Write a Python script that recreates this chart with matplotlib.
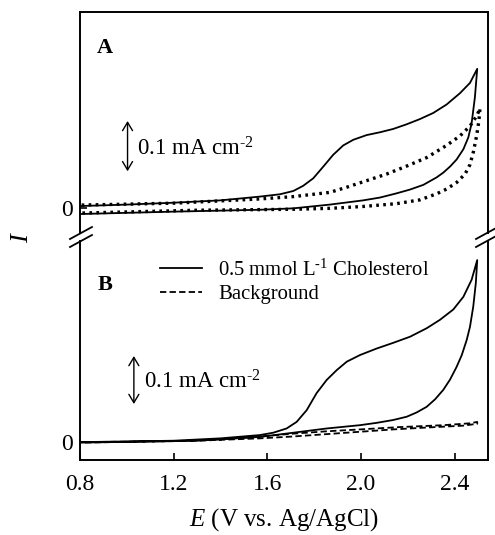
"""Cyclic voltammograms, panels A and B with a broken current axis"""
import matplotlib
matplotlib.use("Agg")
import matplotlib.pyplot as plt
from matplotlib.lines import Line2D

plt.rcParams['font.family'] = ['Liberation Serif', 'DejaVu Serif']
plt.rcParams['mathtext.fontset'] = 'custom'
plt.rcParams['mathtext.rm'] = 'Liberation Serif'
plt.rcParams['mathtext.it'] = 'Liberation Serif:italic'

# ---- data (E in V vs. Ag/AgCl, I in mA cm-2) ----
# panel A, cholesterol (solid): forward then reverse scan
a_chol_fwd_E = [0.807, 1.0, 1.2, 1.4, 1.568, 1.654, 1.711, 1.753, 1.796, 1.839,
                1.881, 1.924, 1.967, 2.024, 2.081, 2.137, 2.195, 2.251, 2.308,
                2.365, 2.422, 2.465, 2.496]
a_chol_fwd_I = [0.004, 0.007, 0.011, 0.016, 0.024, 0.029, 0.036, 0.047, 0.063,
                0.088, 0.113, 0.133, 0.145, 0.155, 0.161, 0.168, 0.178, 0.189,
                0.202, 0.220, 0.244, 0.266, 0.296]
a_chol_rev_E = [2.496, 2.486, 2.472, 2.458, 2.437, 2.408, 2.380, 2.351, 2.323,
                2.266, 2.209, 2.152, 2.081, 2.009, 1.867, 1.711, 1.568, 1.2, 0.807]
a_chol_rev_I = [0.296, 0.235, 0.180, 0.150, 0.125, 0.103, 0.088, 0.075, 0.065,
                0.049, 0.039, 0.031, 0.022, 0.016, 0.007, -0.001, -0.004, -0.008,
                -0.013]
# panel A, background (dotted)
a_bg_fwd_E = [0.807, 1.2, 1.568, 1.711, 1.867, 1.939, 2.024, 2.109, 2.195,
              2.280, 2.365, 2.422, 2.465, 2.494, 2.508]
a_bg_fwd_I = [0.006, 0.010, 0.019, 0.024, 0.033, 0.044, 0.058, 0.072, 0.089,
              0.107, 0.133, 0.153, 0.174, 0.196, 0.212]
a_bg_rev_E = [2.508, 2.503, 2.494, 2.480, 2.465, 2.444, 2.408, 2.365, 2.323,
              2.251, 2.152, 2.009, 1.867, 1.711, 1.3, 0.807]
a_bg_rev_I = [0.212, 0.185, 0.155, 0.120, 0.092, 0.072, 0.054, 0.040, 0.030,
              0.017, 0.009, 0.003, -0.001, -0.003, -0.005, -0.011]

# panel B, cholesterol (solid)
b_chol_fwd_E = [0.807, 1.2, 1.4, 1.568, 1.625, 1.682, 1.725, 1.768, 1.810,
                1.853, 1.896, 1.939, 1.995, 2.067, 2.137, 2.209, 2.280, 2.337,
                2.394, 2.437, 2.472, 2.496]
b_chol_fwd_I = [0.0, 0.003, 0.008, 0.015, 0.020, 0.029, 0.043, 0.068, 0.104,
                0.132, 0.153, 0.171, 0.185, 0.199, 0.211, 0.224, 0.242, 0.260,
                0.282, 0.309, 0.345, 0.387]
b_chol_rev_E = [2.496, 2.490, 2.479, 2.465, 2.451, 2.430, 2.408, 2.380, 2.351,
                2.316, 2.280, 2.237, 2.195, 2.137, 2.067, 1.995, 1.853, 1.711,
                1.568, 1.3, 0.807]
b_chol_rev_I = [0.387, 0.338, 0.288, 0.245, 0.217, 0.185, 0.160, 0.133, 0.111,
                0.091, 0.075, 0.063, 0.054, 0.047, 0.041, 0.036, 0.029, 0.020,
                0.011, 0.003, -0.001]
# panel B, background (dashed)
b_bg_fwd_E = [0.807, 1.2, 1.4, 1.568, 1.711, 1.853, 1.995, 2.166, 2.351,
              2.465, 2.496]
b_bg_fwd_I = [0.0, 0.002, 0.006, 0.012, 0.018, 0.023, 0.027, 0.032, 0.036,
              0.040, 0.043]
b_bg_rev_E = [2.496, 2.437, 2.280, 2.137, 1.995, 1.853, 1.711, 1.568, 1.3, 0.807]
b_bg_rev_I = [0.039, 0.035, 0.031, 0.027, 0.022, 0.017, 0.012, 0.008, 0.003, -0.001]

x_ticks = [0.8, 1.2, 1.6, 2.0, 2.4]
x_ticklabels = ['0.8', '1.2', '1.6', '2.0', '2.4']
legend_labels = ['0.5 mmol L$^{\\mathregular{\u2010}1}$ Cholesterol', 'Background']
scale_label = '0.1 mA cm$^{\\mathregular{\u20102}}$'

W, H = 495, 535
fig = plt.figure(figsize=(W / 100, H / 100), dpi=100)

left, right = 80 / W, 488 / W
y_top, y_mid, y_bot = 1 - 12 / H, 1 - 237 / H, 1 - 460 / H
ax_a = fig.add_axes([left, y_mid, right - left, y_top - y_mid])
ax_b = fig.add_axes([left, y_bot, right - left, y_mid - y_bot])

lw = 1.3
ax_a.plot(a_chol_fwd_E + a_chol_rev_E, a_chol_fwd_I + a_chol_rev_I,
          color='k', lw=lw)
ax_a.plot(a_bg_fwd_E + a_bg_rev_E, a_bg_fwd_I + a_bg_rev_I,
          color='k', lw=2.4, ls=(0, (0.8, 1.3)))
ax_b.plot(b_chol_fwd_E + b_chol_rev_E, b_chol_fwd_I + b_chol_rev_I,
          color='k', lw=lw, label=legend_labels[0])
ax_b.plot(b_bg_fwd_E + b_bg_rev_E, b_bg_fwd_I + b_bg_rev_I,
          color='k', lw=lw, ls=(0, (3.5, 1.8)), label=legend_labels[1])

ax_a.set_ylim(-0.062, 0.417)
ax_b.set_ylim(-0.038, 0.436)
for ax in (ax_a, ax_b):
    ax.set_xlim(0.8, 2.542)
    ax.set_yticks([0])
    ax.set_yticklabels(['0'], fontsize=17)
    ax.tick_params(direction='in', length=5, width=1.2, pad=5)
    for sp in ax.spines.values():
        sp.set_linewidth(1.4)

ax_a.spines['bottom'].set_visible(False)
ax_a.set_xticks([])
ax_b.spines['top'].set_visible(False)
ax_b.set_xticks(x_ticks)
ax_b.set_xticklabels(x_ticklabels, fontsize=17)
ax_b.tick_params(axis='x', pad=10)

# gap in the side spines for the axis break
gap_a = -0.062 + 4 / 225 * (0.417 + 0.062)
gap_b = 0.436 - 4 / 223 * (0.436 + 0.038)
for side in ('left', 'right'):
    ax_a.spines[side].set_bounds(gap_a, 0.417)
    ax_b.spines[side].set_bounds(-0.038, gap_b)

# break marks
for xc in (81, 487):
    for yc in (233, 241):
        fig.add_artist(Line2D([(xc - 11) / W, (xc + 11) / W],
                              [1 - (yc + 6) / H, 1 - (yc - 6) / H],
                              color='k', lw=1.3))

# panel letters
ax_a.text(0.042, 0.885, 'A', transform=ax_a.transAxes, fontsize=16,
          fontweight='bold', va='top')
ax_b.text(0.044, 0.83, 'B', transform=ax_b.transAxes, fontsize=16,
          fontweight='bold', va='top')

# scale bars
arrow = dict(arrowstyle='<->,head_length=0.5,head_width=0.3', color='k',
             lw=1.0, mutation_scale=12, shrinkA=0, shrinkB=0)
ax_a.annotate('', xy=(1.003, 0.185), xytext=(1.003, 0.078), arrowprops=arrow)
ax_a.text(1.045, 0.125, scale_label, fontsize=16.5, va='center')
ax_b.annotate('', xy=(1.03, 0.183), xytext=(1.03, 0.081), arrowprops=arrow)
ax_b.text(1.075, 0.128, scale_label, fontsize=16.5, va='center')

ax_b.legend(loc='upper left', bbox_to_anchor=(0.196, 0.9), frameon=False,
            fontsize=14.9, handlelength=2.05, handletextpad=0.75,
            labelspacing=0.2, borderpad=0, borderaxespad=0)

fig.text(22 / W, 1 - 237 / H, '$I$', rotation=90, fontsize=19,
         ha='center', va='center')
ax_b.set_xlabel('$E$ (V vs. Ag/AgCl)', fontsize=18, labelpad=8)

fig.savefig('out.png', dpi=100)
